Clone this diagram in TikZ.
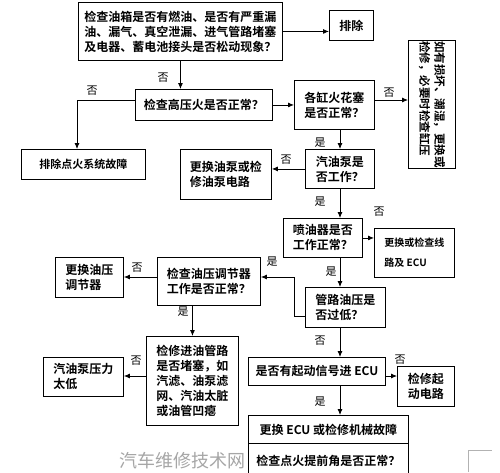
\documentclass[tikz,border=0pt]{standalone}
\usepackage{fontspec}
\newfontfamily\cjk{Noto Sans CJK SC}[BoldFont={Noto Sans CJK SC Bold}]
\usetikzlibrary{arrows.meta,calc}
\begin{document}
\begin{tikzpicture}[x=1pt,y=-1pt,
  box/.style={draw, line width=0.9pt, inner sep=2pt, anchor=north west, align=left,
    font=\cjk\bfseries\fontsize{12}{15}\selectfont},
  arr/.style={draw, line width=0.8pt, -{Latex[length=6pt,width=5pt]}},
  lab/.style={inner sep=0pt, font=\cjk\fontsize{11}{11}\selectfont}]
\useasboundingbox (0,0) rectangle (500,472);
\fill[white] (0,0) rectangle (500,472);

\node[box, minimum width=204pt, minimum height=58pt] (b1) at (78,2)
  {检查油箱是否有燃油、是否有严重漏\\油、漏气、真空泄漏、进气管路堵塞\\及电器、蓄电池接头是否松动现象？};
\node[box, minimum width=44pt, minimum height=30pt, align=center] (pc) at (329,10) {排除};
\node[box, minimum width=137pt, minimum height=31pt, align=center] (hv) at (135,89) {检查高压火是否正常？};
\node[box, minimum width=124pt, minimum height=30pt, font=\cjk\bfseries\fontsize{11}{13}\selectfont] (ig) at (21,149) {排除点火系统故障};
\node[box, minimum width=80pt, minimum height=49pt] (sp) at (294,80) {各缸火花塞\\是否正常？};
\node[box, minimum width=47pt, minimum height=128pt] (vt) at (408,40) {};
\node[rotate=-90, inner sep=0pt, align=left, font=\cjk\bfseries\fontsize{11.5}{15}\selectfont] (vtt) at (vt.center) {如有损坏、潮湿，更换或\\检修，必要时检查缸压};
\node[box, minimum width=69pt, minimum height=39pt] (fp) at (305,149) {汽油泵是\\否工作？};
\node[box, minimum width=91pt, minimum height=50pt] (rp) at (180,149) {更换油泵或检\\修油泵电路};
\node[box, minimum width=79pt, minimum height=39pt] (inj) at (283,218) {喷油器是否\\工作正常？};
\node[box, minimum width=80pt, minimum height=49pt, font=\cjk\bfseries\fontsize{10}{20}\selectfont] (ec) at (374,228) {更换或检查线\\路及 ECU};
\node[box, minimum width=80pt, minimum height=40pt] (pl) at (305,287) {管路油压是\\否过低？};
\node[box, minimum width=103pt, minimum height=48pt] (reg) at (157,257) {检查油压调节器\\工作是否正常？};
\node[box, minimum width=68pt, minimum height=40pt] (rreg) at (55,257) {更换油压\\调节器};
\node[box, minimum width=92pt, minimum height=89pt] (chk) at (146,336) {检修进油管路\\是否堵塞，如\\汽滤、油泵滤\\网、汽油太脏\\或油管凹瘪};
\node[box, minimum width=80pt, minimum height=39pt] (low) at (43,357) {汽油泵压力\\太低};
\node[box, minimum width=137pt, minimum height=28pt] (sig) at (248,357) {是否有起动信号进 ECU};
\node[box, minimum width=57pt, minimum height=40pt] (rep) at (397,366) {检修起\\动电路};
\node[box, minimum width=160pt, minimum height=28pt] (bt1) at (248,415) {更换 ECU 或检修机械故障};
\node[box, minimum width=160pt, minimum height=34pt] (bt2) at (248,443) {检查点火提前角是否正常？};

% connectors
\draw[arr] (b1.east) -- (b1.east -| pc.west);
\draw[arr] (b1.south) -- (b1.south |- hv.north);
\node[lab] (l1) at (163,78) {否};
\coordinate (c1) at (77,100);
\draw[arr] (hv.west |- c1) -- (c1) -- (c1 |- ig.north);
\node[lab] (l2) at (92,91) {否};
\draw[arr] (hv.east) -- (hv.east -| sp.west);
\coordinate (c2) at (374,100);
\draw[arr] (c2) -- (c2 -| vt.west);
\node[lab] (l3) at (389,93) {否};
\coordinate (c3) at (340,129);
\draw[arr] (c3) -- (c3 |- fp.north);
\node[lab] (l4) at (320,143) {是};
\draw[arr] (fp.west) -- (fp.west -| rp.east);
\node[lab] (l5) at (286,160) {否};
\draw[arr] (c3 |- fp.south) -- (c3 |- inj.north);
\node[lab] (l6) at (320,202) {是};
\draw[arr] (inj.east) -- (inj.east -| ec.west);
\node[lab] (l7) at (379,212) {否};
\draw[arr] (c3 |- inj.south) -- (c3 |- pl.north);
\node[lab] (l8) at (331,272) {是};
\coordinate (k1) at (294,316);
\coordinate (k2) at (294,277);
\draw[arr] (pl.west |- k1) -- (k1) -- (k2) -- (k2 -| reg.east);
\node[lab] (l9) at (272,262) {是};
\draw[arr] (k2 -| reg.west) -- (k2 -| rreg.east);
\node[lab] (l10) at (137,268) {否};
\draw[arr] (chk.north |- reg.south) -- (chk.north);
\node[lab] (l11) at (183,312) {是};
\coordinate (k3) at (146,376);
\draw[arr] (k3) -- (k3 -| low.east);
\node[lab] (l12) at (136,361) {否};
\draw[arr] (c3 |- pl.south) -- (c3 |- sig.north);
\node[lab] (l13) at (320,341) {否};
\coordinate (k4) at (385,376);
\draw[arr] (k4) -- (k4 -| rep.west);
\node[lab] (l14) at (400,360) {否};
\draw[arr] (c3 |- sig.south) -- (c3 |- bt1.north);
\node[lab] (l15) at (320,402) {是};

% watermark and corner mark
\node[inner sep=0pt, text=black!35, font=\cjk\fontsize{18}{18}\selectfont] (wm) at (182,461) {汽车维修技术网};
\draw[black!30, line width=0.6pt] (468,472) -- (468,450) -- (492,450);
\end{tikzpicture}
\end{document}
